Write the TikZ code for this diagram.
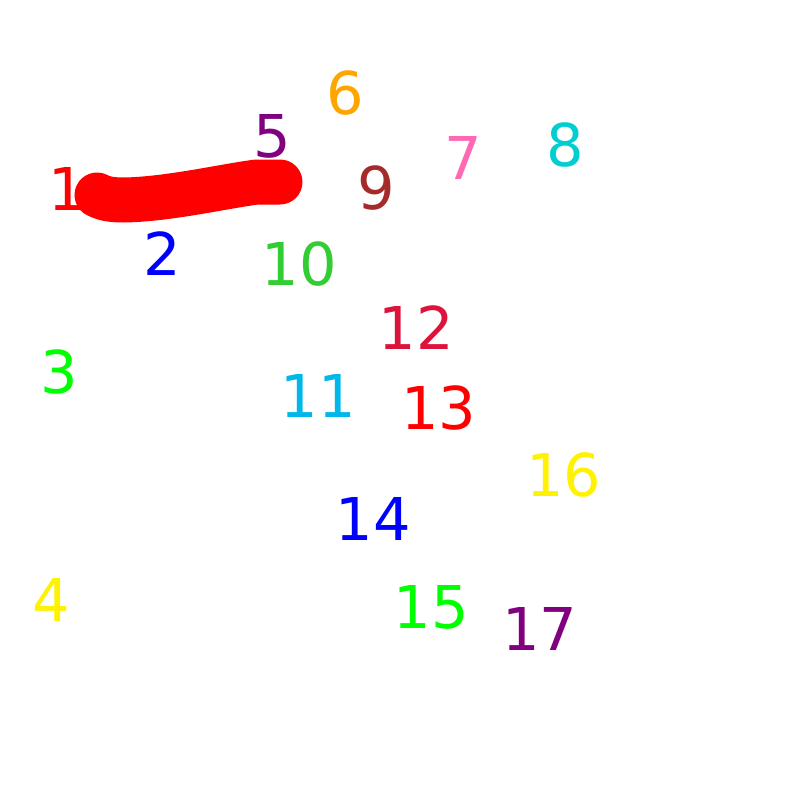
\documentclass[tikz,border=0pt]{standalone}
\usepackage{fontspec}
\setmainfont{DejaVu Sans}
\usepackage{xcolor}

\definecolor{cOrange}{RGB}{255,165,0}
\definecolor{cPink}{RGB}{255,105,180}
\definecolor{cTurq}{RGB}{0,206,209}
\definecolor{cBrown}{RGB}{165,42,42}
\definecolor{cLimeGreen}{RGB}{50,205,50}
\definecolor{cSky}{RGB}{0,183,235}
\definecolor{cCrimson}{RGB}{220,20,60}
\definecolor{cLime}{RGB}{0,255,0}
\definecolor{cPurple}{RGB}{128,0,128}

\begin{document}
\begin{tikzpicture}[x=1pt,y=-1pt,
			num/.style={anchor=base, inner sep=0pt, font=\fontsize{59}{59}\selectfont},
			stroke/.style={draw=red, line width=45pt, line cap=round, line join=round}
				]
			\useasboundingbox (0,0) rectangle (800,800);

			% numbers: name/x/baseline/colour
			\foreach \n/\x/\y/\c in {1/67/210/red, 2/162/275/blue, 3/59.5/393/cLime, 4/51.5/621/yellow,
				5/272.5/157/cPurple, 6/345.5/114/cOrange, 7/463/179/cPink, 8/565.5/166/cTurq,
				9/376.5/209/cBrown, 10/299.5/285/cLimeGreen, 11/318.5/417/cSky, 12/416.5/349/cCrimson,
				13/439/429/red, 14/373.5/540/blue, 15/431.5/628/cLime, 16/564/496/yellow, 17/540/650/cPurple} {
				\node[num,text=\c] (n\n) at (\x,\y) {\n};
			}

			% freehand stroke
			\draw[stroke] (97,195) .. controls (105,199) and (112,200) .. (125,200)
				.. controls (170,199) and (225,186) .. (257,182) -- (280,182);
	\end{tikzpicture}
\end{document}
